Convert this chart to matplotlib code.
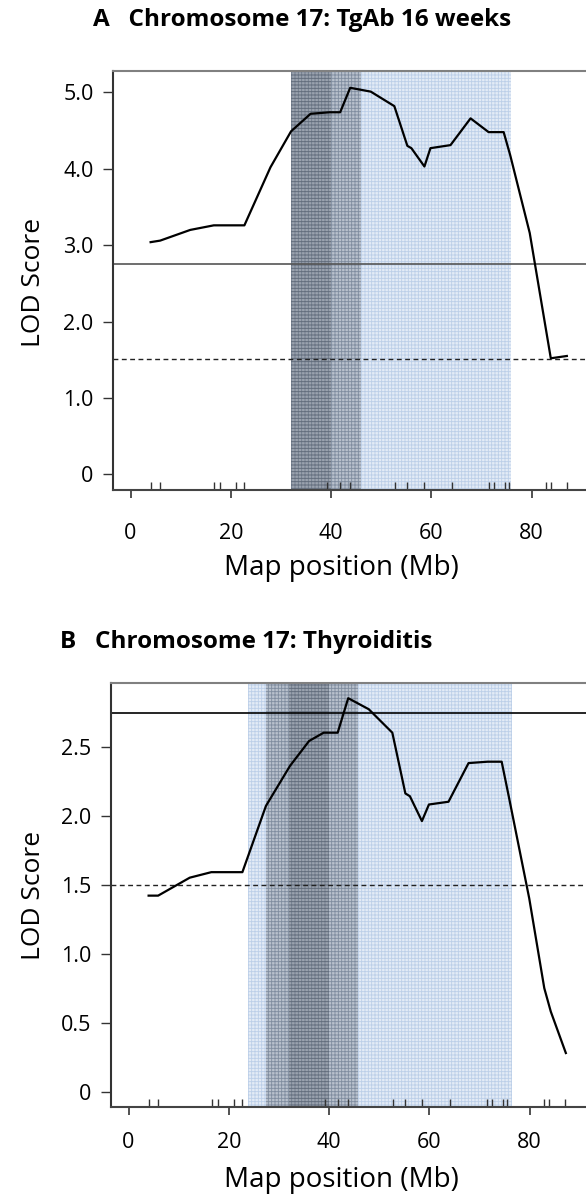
import matplotlib
matplotlib.use('Agg')
import matplotlib.pyplot as plt

plt.rcParams['font.family'] = ['Open Sans', 'DejaVu Sans']
plt.rcParams['hatch.linewidth'] = 0.6

# marker positions on chromosome 17 (Mb), drawn as rug ticks
markers = [4.0, 5.9, 16.6, 17.8, 21.0, 22.7, 39.2, 41.8, 43.8, 52.7, 55.2, 58.6,
           64.0, 71.5, 72.5, 74.6, 75.4, 82.8, 83.8, 87.0]

# panel A: TgAb 16 weeks
pos_a = [4.0, 5.9, 11.9, 16.6, 22.7, 27.9, 32.0, 35.9, 39.7, 41.8, 43.8, 47.9, 52.6,
         55.2, 56.0, 58.6, 59.8, 63.8, 67.8, 71.4, 74.4, 75.7, 79.6, 83.8, 87.0]
lod_a = [3.04, 3.06, 3.20, 3.26, 3.26, 4.02, 4.49, 4.72, 4.74, 4.74, 5.06, 5.01, 4.82,
         4.30, 4.27, 4.03, 4.27, 4.31, 4.66, 4.48, 4.48, 4.18, 3.16, 1.52, 1.55]
sig_a, sugg_a = 2.76, 1.51
blue_a = (32.0, 75.9)
gray_a = (32.0, 46.0)
dark_a = (32.0, 40.0)
yticks_a = [0, 1, 2, 3, 4, 5]
ylabels_a = ['0', '1.0', '2.0', '3.0', '4.0', '5.0']

# panel B: Thyroiditis
pos_b = [4.0, 5.9, 12.2, 16.5, 22.7, 27.4, 32.2, 36.0, 38.9, 41.7, 43.8, 47.9, 52.6,
         55.2, 56.1, 58.5, 59.9, 63.8, 67.8, 71.6, 74.4, 75.7, 79.9, 82.9, 84.2, 87.2]
lod_b = [1.42, 1.42, 1.55, 1.59, 1.59, 2.07, 2.36, 2.54, 2.60, 2.60, 2.85, 2.77, 2.60,
         2.16, 2.14, 1.96, 2.08, 2.10, 2.38, 2.39, 2.39, 2.16, 1.40, 0.75, 0.58, 0.28]
sig_b, sugg_b = 2.74, 1.50
blue_b = (23.9, 76.4)
gray_b = (27.4, 45.8)
dark_b = (31.9, 39.9)
yticks_b = [0, 0.5, 1.0, 1.5, 2.0, 2.5]
ylabels_b = ['0', '0.5', '1.0', '1.5', '2.0', '2.5']

xticks = [0, 20, 40, 60, 80]

W, H = 586, 1195
fig = plt.figure(figsize=(W / 100, H / 100), dpi=100)


def px_axes(left, top, right, bottom):
    return fig.add_axes([left / W, 1 - bottom / H, (right - left) / W, (bottom - top) / H])


def draw_panel(ax, pos, lod, sig, sugg, blue, gray, dark, yticks, ylabels, ylim,
               sig_color, xpad):
    ax.axvspan(*blue, facecolor='#e3ebf6', edgecolor='#bccfe8', hatch='+++++',
               linewidth=0, zorder=0)
    ax.axvspan(*gray, facecolor='#4a525e', alpha=0.27, edgecolor='#333a44',
               hatch='+++++', linewidth=0, zorder=0.5)
    ax.axvspan(*dark, facecolor='#4a525e', alpha=0.27, edgecolor='#333a44',
               hatch='-----', linewidth=0, zorder=0.6)
    ax.axhline(sig, color=sig_color, lw=1.2, zorder=2)
    ax.axhline(sugg, color='#222222', lw=1.0, ls=(0, (3.5, 2.5)), zorder=2)
    ax.plot(pos, lod, color='black', lw=1.6, zorder=3)

    ax.set_xlim(-3.5, 97.6)
    ax.set_ylim(*ylim)
    ax.set_xticks(xticks)
    ax.set_xticklabels([str(t) for t in xticks])
    ax.set_xticks(markers, minor=True)
    ax.set_yticks(yticks)
    ax.set_yticklabels(ylabels)

    ax.tick_params(axis='x', which='major', direction='out', length=6, width=1.2,
                   labelsize=15.5, pad=xpad, color='#333333')
    ax.tick_params(axis='x', which='minor', direction='in', length=6, width=1.0,
                   color='#333333')
    ax.tick_params(axis='y', direction='out', length=7, width=1.0, labelsize=15.5,
                   pad=7, color='#333333')

    ax.spines['right'].set_visible(False)
    ax.spines['top'].set_color('#808080')
    ax.spines['top'].set_linewidth(1.5)
    ax.spines['left'].set_color('#333333')
    ax.spines['left'].set_linewidth(1.5)
    ax.spines['bottom'].set_color('#444444')
    ax.spines['bottom'].set_linewidth(1.5)

    ax.set_ylabel('LOD Score', fontsize=19)
    ax.yaxis.label.set_va('center')
    ax.set_xlabel('Map position (Mb)', fontsize=20)
    ax.xaxis.label.set_va('center')


ax_a = px_axes(113, 71, 620, 489.7)
draw_panel(ax_a, pos_a, lod_a, sig_a, sugg_a, blue_a, gray_a, dark_a,
           yticks_a, ylabels_a, (-0.2, 5.28), '#555555', 18)
ax_a.yaxis.set_label_coords((34 - 113) / 507, (489.7 - 282) / 418.7)
ax_a.xaxis.set_label_coords((341 - 113) / 507, (489.7 - 568) / 418.7)

ax_b = px_axes(111, 683, 618, 1107.3)
draw_panel(ax_b, pos_b, lod_b, sig_b, sugg_b, blue_b, gray_b, dark_b,
           yticks_b, ylabels_b, (-0.113, 2.96), 'black', 12)
ax_b.yaxis.set_label_coords((34 - 111) / 507, (1107.3 - 895) / 424.3)
ax_b.xaxis.set_label_coords((341 - 111) / 507, (1107.3 - 1180) / 424.3)

fig.text(302 / W, 1 - 20 / H, 'A   Chromosome 17: TgAb 16 weeks', fontsize=17.5,
         fontweight='bold', ha='center', va='center')
fig.text(246 / W, 1 - 642 / H, 'B   Chromosome 17: Thyroiditis', fontsize=17.5,
         fontweight='bold', ha='center', va='center')

fig.savefig('out.png', dpi=100)
